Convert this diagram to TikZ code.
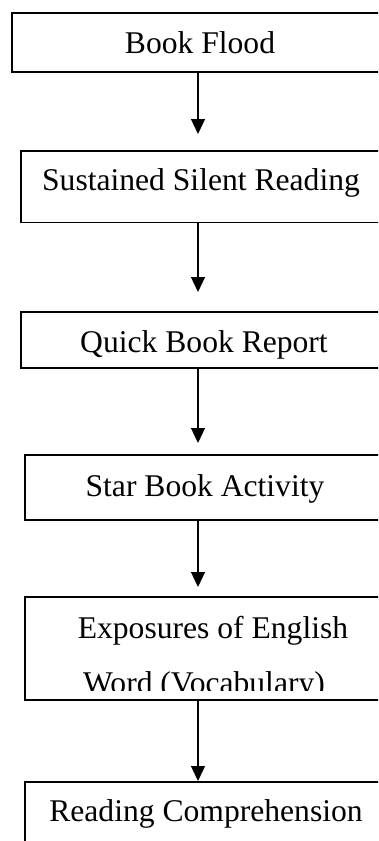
\documentclass[tikz,border=0pt]{standalone}
\usepackage{fontspec}
\setmainfont{Liberation Serif}
\usetikzlibrary{arrows.meta}
\begin{document}
\begin{tikzpicture}[x=1pt, y=-1pt,
  stage/.style={draw, line width=1.3pt, inner sep=0pt, outer sep=0pt, anchor=north west},
  caption/.style={font=\fontsize{31.6}{38}\selectfont, anchor=base, inner sep=0pt},
  flow/.style={-{Triangle[width=14pt,length=15pt]}, line width=1.3pt}]
% Page size
\useasboundingbox (0,0) rectangle (378,841);
\clip (0,0) rectangle (378,841);

% Draw boxes
\node[stage, minimum width=376pt, minimum height=59pt] (flood) at (12,13) {};
\node[stage, minimum width=360pt, minimum height=71.5pt] (silent) at (21,151) {};
\node[stage, minimum width=366pt, minimum height=56pt] (report) at (21,312) {};
\node[stage, minimum width=360pt, minimum height=65pt] (star) at (25,455) {};
\node[stage, minimum width=366pt, minimum height=103pt] (vocab) at (25,597) {};
\node[stage, minimum width=362pt, minimum height=80pt] (compr) at (25,782) {};

% Box texts
\node[caption] (floodtxt) at (200,53) {Book Flood};
\node[caption] (silenttxt) at (201,190) {Sustained Silent Reading};
\node[caption] (reporttxt) at (204,352) {Quick Book Report};
\node[caption] (startxt) at (205,496) {Star Book Activity};
\begin{scope}
\clip (25,597) rectangle (400,690);
\node[caption] (vocabtxta) at (213,638) {Exposures of English};
\node[caption] (vocabtxtb) at (204,693) {Word (Vocabulary)};
\end{scope}
\node[caption] (comprtxt) at (206,821) {Reading Comprehension};

% Draw arrows
\coordinate (ax) at (198,0);
\draw[flow, shorten >=17pt] (flood.south -| ax) -- (silent.north -| ax);
\draw[flow, shorten >=20pt] (silent.south -| ax) -- (report.north -| ax);
\draw[flow, shorten >=12pt] (report.south -| ax) -- (star.north -| ax);
\draw[flow, shorten >=10pt] (star.south -| ax) -- (vocab.north -| ax);
\draw[flow, shorten >=1pt] (vocab.south -| ax) -- (compr.north -| ax);
\end{tikzpicture}
\end{document}
